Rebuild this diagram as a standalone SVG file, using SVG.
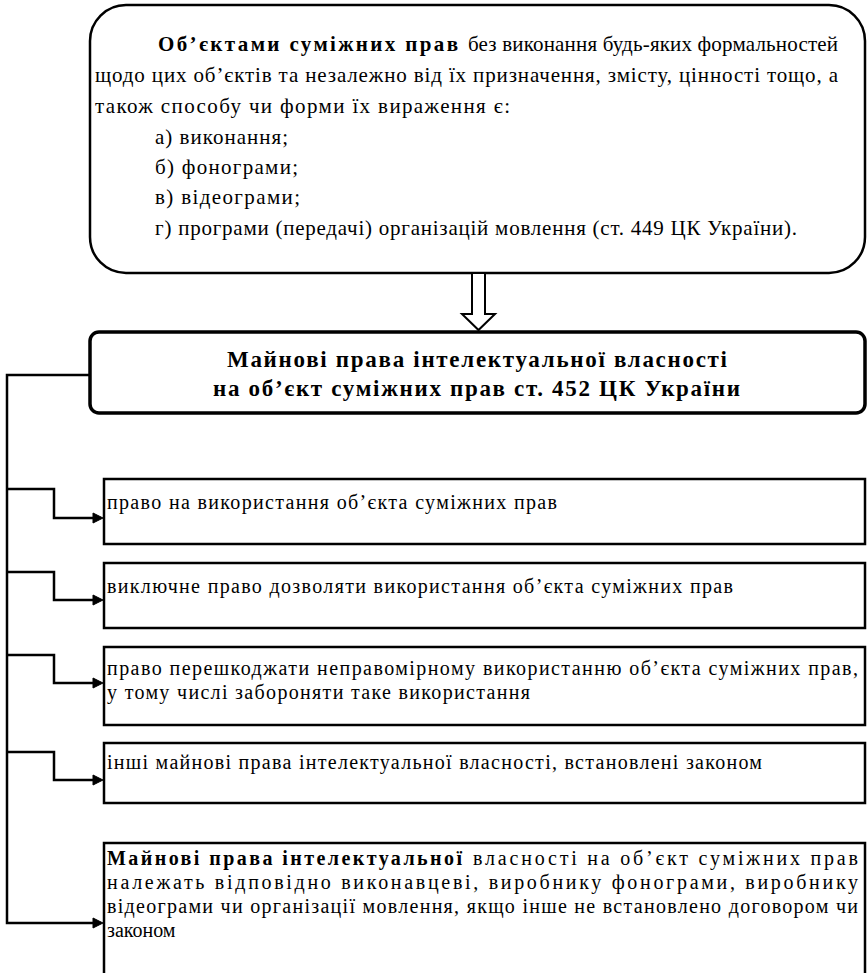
<svg xmlns="http://www.w3.org/2000/svg" width="867" height="973" viewBox="0 0 867 973">
<rect width="867" height="973" fill="#fff"/>

<g id="objects">
<rect x="90" y="5" width="775" height="268" rx="36" ry="36" fill="#fff" stroke="#000" stroke-width="2.5"/>
<text font-family="Liberation Serif, Times New Roman, serif" font-size="21" font-weight="bold" x="158" y="51" textLength="300" lengthAdjust="spacing">Об’єктами суміжних прав</text>
<text font-family="Liberation Serif, Times New Roman, serif" font-size="21" x="468" y="51" textLength="370" lengthAdjust="spacing">без виконання будь-яких формальностей</text>
<text font-family="Liberation Serif, Times New Roman, serif" font-size="21" x="95" y="82" textLength="743" lengthAdjust="spacing">щодо цих об’єктів та незалежно від їх призначення, змісту, цінності тощо, а</text>
<text font-family="Liberation Serif, Times New Roman, serif" font-size="21" x="95" y="113" textLength="415" lengthAdjust="spacing">також способу чи форми їх вираження є:</text>
<text font-family="Liberation Serif, Times New Roman, serif" font-size="21" x="155" y="144" textLength="133" lengthAdjust="spacing">а) виконання;</text>
<text font-family="Liberation Serif, Times New Roman, serif" font-size="21" x="155" y="174" textLength="143" lengthAdjust="spacing">б) фонограми;</text>
<text font-family="Liberation Serif, Times New Roman, serif" font-size="21" x="155" y="204" textLength="145" lengthAdjust="spacing">в) відеограми;</text>
<text font-family="Liberation Serif, Times New Roman, serif" font-size="21" x="155" y="235" textLength="642" lengthAdjust="spacing">г) програми (передачі) організацій мовлення (ст. 449 ЦК України).</text>
</g>

<g id="arrow">
<path d="M472,273 L485,273 L485,314 L495,314 L478.5,330 L462,314 L472,314 Z" fill="#fff" stroke="#000" stroke-width="2"/>
</g>

<g id="title">
<rect x="90" y="332" width="775" height="81" rx="9" ry="9" fill="#fff" stroke="#000" stroke-width="3.5"/>
<text font-family="Liberation Serif, Times New Roman, serif" font-size="23" font-weight="bold" x="227" y="367" textLength="500" lengthAdjust="spacing">Майнові права інтелектуальної власності</text>
<text font-family="Liberation Serif, Times New Roman, serif" font-size="23" font-weight="bold" x="213" y="396" textLength="527" lengthAdjust="spacing">на об’єкт суміжних прав ст. 452 ЦК України</text>
</g>

<g id="right1">
<rect x="104" y="479" width="761" height="65" fill="#fff" stroke="#000" stroke-width="2.5"/>
<text font-family="Liberation Serif, Times New Roman, serif" font-size="20" x="107" y="509" textLength="450" lengthAdjust="spacing">право на використання об’єкта суміжних прав</text>
</g>
<g id="right2">
<rect x="104" y="563" width="761" height="65" fill="#fff" stroke="#000" stroke-width="2.5"/>
<text font-family="Liberation Serif, Times New Roman, serif" font-size="20" x="107" y="593" textLength="626" lengthAdjust="spacing">виключне право дозволяти використання об’єкта суміжних прав</text>
</g>
<g id="right3">
<rect x="104" y="647" width="761" height="78" fill="#fff" stroke="#000" stroke-width="2.5"/>
<text font-family="Liberation Serif, Times New Roman, serif" font-size="20" x="107" y="675" textLength="751" lengthAdjust="spacing">право перешкоджати неправомірному використанню об’єкта суміжних прав,</text>
<text font-family="Liberation Serif, Times New Roman, serif" font-size="20" x="107" y="699" textLength="423" lengthAdjust="spacing">у тому числі забороняти таке використання</text>
</g>
<g id="right4">
<rect x="104" y="743" width="761" height="60" fill="#fff" stroke="#000" stroke-width="2.5"/>
<text font-family="Liberation Serif, Times New Roman, serif" font-size="20" x="107" y="769" textLength="655" lengthAdjust="spacing">інші майнові права інтелектуальної власності, встановлені законом</text>
</g>
<g id="right5">
<rect x="104" y="843" width="761" height="150" fill="#fff" stroke="#000" stroke-width="2.5"/>
<text font-family="Liberation Serif, Times New Roman, serif" font-size="20" font-weight="bold" x="107" y="865" textLength="355" lengthAdjust="spacing">Майнові права інтелектуальної</text>
<text font-family="Liberation Serif, Times New Roman, serif" font-size="20" x="473" y="865" textLength="385" lengthAdjust="spacing">власності на об’єкт суміжних прав</text>
<text font-family="Liberation Serif, Times New Roman, serif" font-size="20" x="107" y="889" textLength="751" lengthAdjust="spacing">належать відповідно виконавцеві, виробнику фонограми, виробнику</text>
<text font-family="Liberation Serif, Times New Roman, serif" font-size="20" x="107" y="913" textLength="751" lengthAdjust="spacing">відеограми чи організації мовлення, якщо інше не встановлено договором чи</text>
<text font-family="Liberation Serif, Times New Roman, serif" font-size="20" x="107" y="937">законом</text>
</g>

<g id="connectors">
<path d="M90,375 L7,375 L7,923 L94,923" fill="none" stroke="#000" stroke-width="2.5"/>
<path d="M7,489 L54,489 L54,518 L94,518" fill="none" stroke="#000" stroke-width="2.5"/>
<path d="M7,572 L54,572 L54,600 L94,600" fill="none" stroke="#000" stroke-width="2.5"/>
<path d="M7,655 L54,655 L54,683 L94,683" fill="none" stroke="#000" stroke-width="2.5"/>
<path d="M7,752 L54,752 L54,780 L94,780" fill="none" stroke="#000" stroke-width="2.5"/>
<polygon points="93,513 103,518 93,523" fill="#000" stroke="#000" stroke-width="1"/>
<polygon points="93,595 103,600 93,605" fill="#000" stroke="#000" stroke-width="1"/>
<polygon points="93,678 103,683 93,688" fill="#000" stroke="#000" stroke-width="1"/>
<polygon points="93,775 103,780 93,785" fill="#000" stroke="#000" stroke-width="1"/>
<polygon points="93,918 103,923 93,928" fill="#000" stroke="#000" stroke-width="1"/>
</g>
</svg>
